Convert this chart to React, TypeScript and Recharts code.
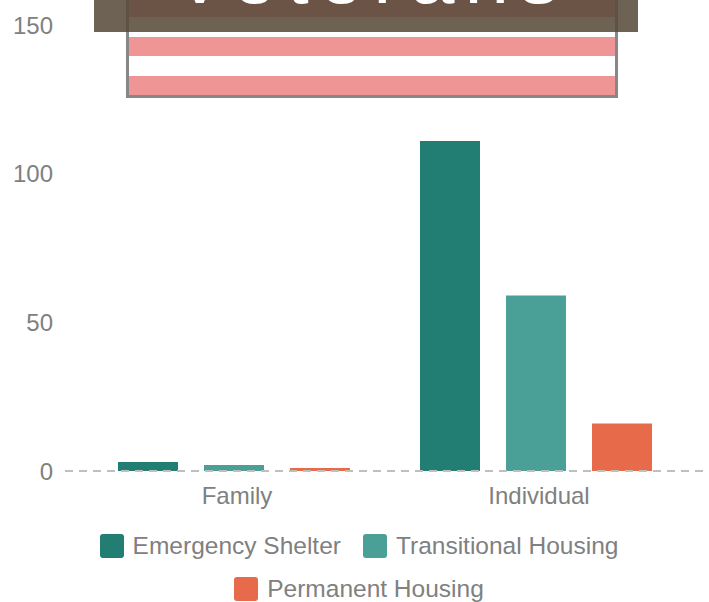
import React from "react";
import { BarChart, Bar, XAxis, YAxis, Legend } from "recharts";

const categories = ["Family", "Individual"];
const emergencyShelter = [3, 111];
const transitionalHousing = [2, 59];
const permanentHousing = [1, 16];
const yTicks = [0, 50, 100, 150];

const series = [
  { key: "emergency", name: "Emergency Shelter", color: "#227D72", values: emergencyShelter },
  { key: "transitional", name: "Transitional Housing", color: "#4AA097", values: transitionalHousing },
  { key: "permanent", name: "Permanent Housing", color: "#E76B4B", values: permanentHousing },
];

const data = categories.map((name, i) => {
  const row: Record<string, string | number> = { name };
  series.forEach((s) => {
    row[s.key] = s.values[i];
  });
  return row;
});

const FONT = '"Liberation Sans", Arial, sans-serif';
const TEXT_GREY = "#808080";

const LegendItem = ({ name, color }: { name: string; color: string }) => (
  <div style={{ display: "flex", alignItems: "center", margin: "0 11px" }}>
    <div style={{ width: 24, height: 24, borderRadius: 3, background: color, marginRight: 9 }} />
    <span style={{ fontSize: 24.5, color: TEXT_GREY, fontFamily: FONT, lineHeight: "24px" }}>{name}</span>
  </div>
);

const renderLegend = () => (
  <div style={{ height: 81, paddingLeft: 9, boxSizing: "border-box" }}>
    <div style={{ display: "flex", justifyContent: "center", marginTop: 13, height: 24 }}>
      <LegendItem name={series[0].name} color={series[0].color} />
      <LegendItem name={series[1].name} color={series[1].color} />
    </div>
    <div style={{ display: "flex", justifyContent: "center", marginTop: 19, height: 24 }}>
      <LegendItem name={series[2].name} color={series[2].color} />
    </div>
  </div>
);

const Header = () => (
  <>
    {/* striped flag box behind the title banner */}
    <div
      style={{
        position: "absolute",
        left: 126,
        top: -22,
        width: 492,
        height: 120,
        border: "3px solid #878787",
        boxSizing: "border-box",
        background:
          "linear-gradient(to bottom, #F09595 0px, #F09595 36px, #fff 36px, #fff 56px, #F09595 56px, #F09595 75px, #fff 75px, #fff 95px, #F09595 95px, #F09595 120px)",
      }}
    />
    <div
      style={{
        position: "absolute",
        left: 94,
        top: 0,
        width: 544,
        height: 32,
        background: "rgba(87,75,57,0.87)",
        overflow: "hidden",
      }}
    >
      <svg width={544} height={32} style={{ display: "block" }}>
        <text x={277} y={3} textAnchor="middle" fontSize={80} letterSpacing={10} fill="#fff" fontFamily={FONT}>
          Veterans
        </text>
      </svg>
    </div>
  </>
);

export default function App() {
  return (
    <div style={{ position: "absolute", left: 0, top: 0, width: 709, height: 602, background: "#fff", overflow: "hidden" }}>
      <BarChart
        width={709}
        height={602}
        data={data}
        margin={{ top: 25, right: 0, left: 0, bottom: 0 }}
        barGap={26}
        barSize={60}
      >
        <XAxis
          dataKey="name"
          padding={{ left: 18, right: 22 }}
          height={50}
          tickLine={false}
          tickSize={0}
          tickMargin={16}
          axisLine={{ stroke: "#BFBFBF", strokeWidth: 2, strokeDasharray: "8 6" }}
          tick={{ fill: TEXT_GREY, fontSize: 24, fontFamily: FONT, dx: 3 }}
        />
        <YAxis
          width={65}
          domain={[0, 150]}
          ticks={yTicks}
          axisLine={false}
          tickLine={false}
          tickSize={0}
          tickMargin={12}
          tick={{ fill: TEXT_GREY, fontSize: 24, fontFamily: FONT }}
        />
        <Legend verticalAlign="bottom" content={renderLegend} wrapperStyle={{ height: 81 }} />
        {series.map((s) => (
          <Bar key={s.key} dataKey={s.key} name={s.name} fill={s.color} isAnimationActive={false} />
        ))}
      </BarChart>
      <Header />
    </div>
  );
}
